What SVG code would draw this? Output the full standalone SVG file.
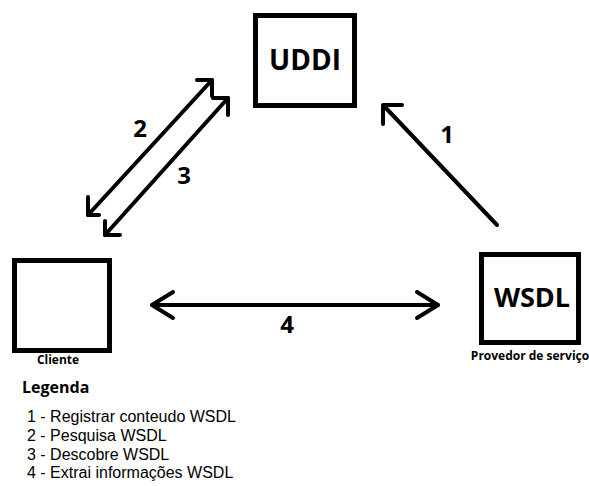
<svg xmlns="http://www.w3.org/2000/svg" width="589" height="486" viewBox="0 0 589 486">
<style>
.box{fill:#fff;stroke:#000;stroke-width:5}
.big{font-family:"Open Sans","Noto Sans",sans-serif;font-weight:bold;fill:#000;text-anchor:middle}
.cap{font-family:"Open Sans","Noto Sans",sans-serif;font-weight:bold;font-size:12px;fill:#000;text-anchor:middle}
.num{font-family:"Open Sans","Noto Sans",sans-serif;font-weight:bold;font-size:24px;fill:#000;text-anchor:middle}
.leg{font-family:"Liberation Sans",Arial,sans-serif;font-size:16px;fill:#000}
.legh{font-family:"Open Sans","Noto Sans",sans-serif;font-size:16px;font-weight:bold;fill:#000}
.ln{fill:none;stroke:#000;stroke-width:4;stroke-linecap:round;stroke-linejoin:round}
</style>
<rect width="589" height="486" fill="#fff"/>
<g id="uddi">
<rect class="box" x="255.5" y="15.5" width="99" height="90"/>
<text class="big" x="305" y="70" font-size="28">UDDI</text>
</g>
<g id="cliente">
<rect class="box" x="14.5" y="260.5" width="95" height="90"/>
<text class="cap" x="58" y="364" font-size="13">Cliente</text>
</g>
<g id="wsdl">
<rect class="box" x="481.5" y="254.5" width="97" height="88"/>
<text class="big" x="532" y="307" font-size="27">WSDL</text>
<text class="cap" x="530" y="360">Provedor de serviço</text>
</g>
<g id="connectors">
<path class="ln" d="M497,225 L384,106"/>
<path class="ln" d="M402,105 L383,105 L383,124"/>
<path class="ln" d="M212,80 L88,215"/>
<path class="ln" d="M197,80 L212,80 L212,96"/>
<path class="ln" d="M88,197 L88,215 L99,215"/>
<path class="ln" d="M228,98 L105,235"/>
<path class="ln" d="M213,98 L228,98 L228,115"/>
<path class="ln" d="M105,221 L105,235 L120,235"/>
<path class="ln" d="M152,305 L438,305"/>
<path class="ln" d="M173,292 L152,305 L173,318"/>
<path class="ln" d="M417,292 L438,305 L417,318"/>
<text class="num" x="447" y="143">1</text>
<text class="num" x="140" y="137">2</text>
<text class="num" x="184" y="184">3</text>
<text class="num" x="287" y="333">4</text>
</g>
<g id="legenda">
<text class="legh" x="22" y="393">Legenda</text>
<text class="leg" x="27" y="422">1 - Registrar conteudo WSDL</text>
<text class="leg" x="27" y="441">2 - Pesquisa WSDL</text>
<text class="leg" x="27" y="459.5">3 - Descobre WSDL</text>
<text class="leg" x="27" y="478">4 - Extrai informações WSDL</text>
</g>
</svg>
